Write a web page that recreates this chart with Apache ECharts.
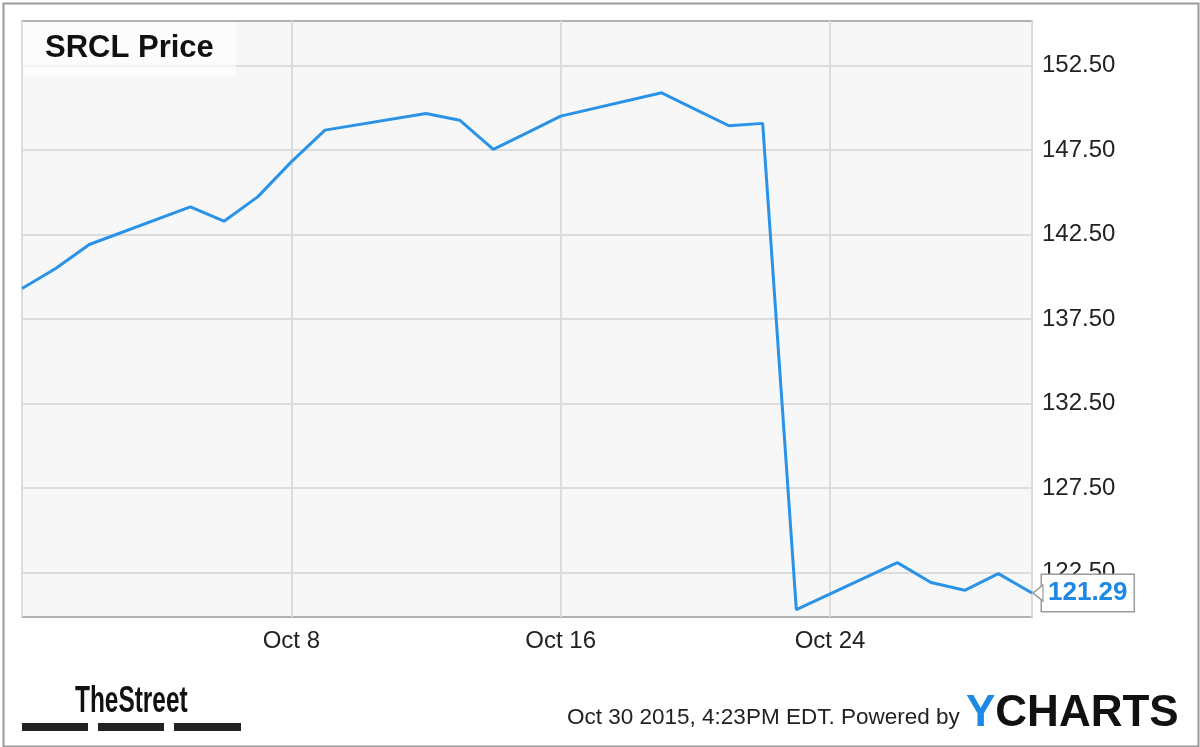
<!DOCTYPE html>
<html>
<head>
<meta charset="utf-8">
<script src="https://cdn.jsdelivr.net/npm/echarts@6/dist/echarts.min.js"></script>
<style>html,body{margin:0;padding:0;background:#fff}#c{width:1200px;height:747px}</style>
</head>
<body>
<div id="c"></div>
<script>
// ---- data ----
const dates = ['2015-09-30','2015-10-01','2015-10-02','2015-10-05','2015-10-06','2015-10-07','2015-10-08','2015-10-09',
  '2015-10-12','2015-10-13','2015-10-14','2015-10-15','2015-10-16','2015-10-19','2015-10-20','2015-10-21','2015-10-22',
  '2015-10-23','2015-10-26','2015-10-27','2015-10-28','2015-10-29','2015-10-30'];
const prices = [139.32,140.50,141.92,144.15,143.30,144.74,146.81,148.69,
  149.68,149.28,147.55,148.53,149.52,150.90,149.92,148.95,149.09,
  120.31,123.09,121.91,121.45,122.44,121.29];
const startDate = '2015-09-30';
const endDate = '2015-10-30';
const yTicks = [122.5,127.5,132.5,137.5,142.5,147.5,152.5];
const xTickStep = 8; // days: Oct 8, Oct 16, Oct 24
const yMin = 119.87, yMax = 155.15;
const titleText = 'SRCL Price';
const footerText = 'Oct 30 2015, 4:23PM EDT. Powered by';

const DAY = 86400000;
const t0 = Date.parse(startDate + 'T00:00:00Z');
const dayOf = d => Math.round((Date.parse(d + 'T00:00:00Z') - t0) / DAY);
const months = ['Jan','Feb','Mar','Apr','May','Jun','Jul','Aug','Sep','Oct','Nov','Dec'];
const fmtDay = v => { const d = new Date(t0 + v * DAY); return months[d.getUTCMonth()] + ' ' + d.getUTCDate(); };
const seriesData = dates.map((d, i) => [dayOf(d), prices[i]]);
const last = seriesData[seriesData.length - 1];
const xMax = dayOf(endDate);

const chart = echarts.init(document.getElementById('c'), null, {renderer: 'canvas'});
const FONT = '"Liberation Sans", Arial, sans-serif';
chart.setOption({
  animation: false,
  backgroundColor: '#fff',
  grid: {left: 22, top: 21, right: 168, bottom: 130, show: true, backgroundColor: '#f7f7f7', borderColor: '#9a9a9a', borderWidth: 1.5},
  xAxis: {
    type: 'value', min: 0, max: xMax, interval: xTickStep,
    axisLine: {show: false}, axisTick: {show: false},
    axisLabel: {color: '#222', fontFamily: FONT, fontSize: 24, margin: 12, showMaxLabel: false, showMinLabel: false,
      formatter: v => (v === 0 || v === xMax) ? '' : fmtDay(v)},
    splitLine: {show: true, lineStyle: {color: '#dcdcdc', width: 2}}
  },
  yAxis: {
    type: 'value', position: 'right', min: yMin, max: yMax,
    axisLine: {show: false},
    axisTick: {show: false, customValues: yTicks},
    axisLabel: {customValues: yTicks, color: '#222', fontFamily: FONT, fontSize: 24, margin: 10, formatter: v => v.toFixed(2)},
    splitLine: {show: true, lineStyle: {color: '#dcdcdc', width: 2}}
  },
  series: [{
    type: 'line', data: seriesData, showSymbol: false, symbol: 'none',
    lineStyle: {color: '#2a93e8', width: 3}, clip: false,
    endLabel: {
      show: true, formatter: p => p.value[1].toFixed(2), color: '#1e88e5', fontFamily: FONT, fontWeight: 'bold', fontSize: 26,
      backgroundColor: '#fff', borderColor: '#9a9a9a', borderWidth: 1.5, padding: [6, 6, 4, 6], distance: 10
    },
    markPoint: {
      silent: true, animation: false,
      data: [{coord: last, symbol: 'triangle', symbolSize: [16, 10], symbolRotate: 90, symbolOffset: [6, 0],
        itemStyle: {color: '#fff', borderColor: '#9a9a9a', borderWidth: 1.5}, label: {show: false}}]
    }
  }],
  graphic: [
    {type: 'rect', left: 1, top: 1, shape: {width: 1195, height: 743}, style: {fill: 'none', stroke: '#9a9a9a', lineWidth: 2}, z: 10},
    {type: 'rect', left: 23, top: 22, shape: {width: 213, height: 54}, style: {fill: 'rgba(255,255,255,0.65)'}, z: 5},
    {type: 'text', left: 45, top: 33, style: {text: titleText, font: 'bold 31px ' + FONT, fill: '#111'}, z: 6},
    {type: 'text', x: 75, y: 683, scaleX: 0.66, style: {text: 'TheStreet', font: 'bold 37px ' + FONT, fill: '#111'}, z: 6},
    {type: 'rect', left: 22, top: 723, shape: {width: 66, height: 8}, style: {fill: '#222'}},
    {type: 'rect', left: 98, top: 723, shape: {width: 66, height: 8}, style: {fill: '#222'}},
    {type: 'rect', left: 174, top: 723, shape: {width: 67, height: 8}, style: {fill: '#222'}},
    {type: 'text', x: 567, y: 706, style: {text: footerText, font: '22.5px ' + FONT, fill: '#222'}},
    {type: 'text', x: 966, y: 692, style: {rich: {b: {fill: '#1e88e5', font: 'bold 44px ' + FONT}, k: {fill: '#111', font: 'bold 44px ' + FONT}}, text: '{b|Y}{k|CHARTS}'}}
  ]
});
</script>
</body>
</html>
